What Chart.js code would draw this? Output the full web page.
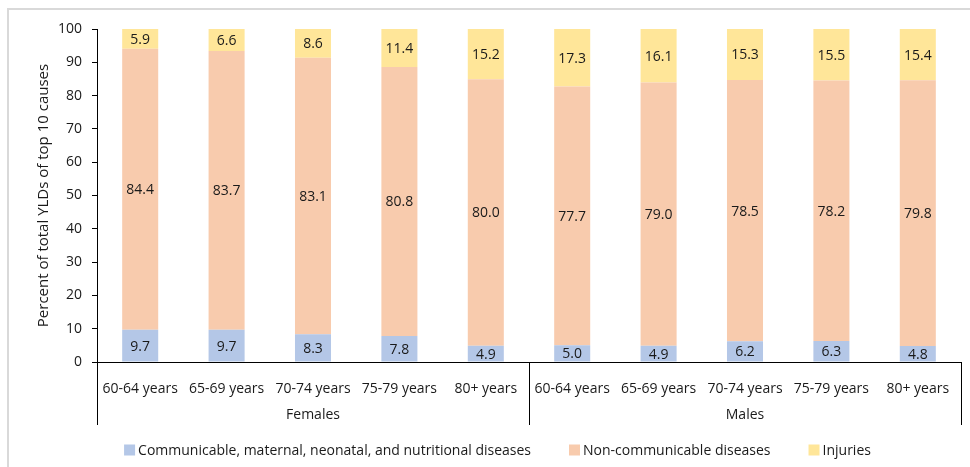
<!DOCTYPE html>
<html>
<head>
<meta charset="utf-8">
<title>YLDs by cause group, age and sex</title>
<script src="https://cdn.jsdelivr.net/npm/chart.js@4.4.1/dist/chart.umd.min.js"></script>
<style>
  html, body { margin: 0; padding: 0; background: #ffffff; }
  #wrap { position: relative; width: 970px; height: 467px; }
</style>
</head>
<body>
<div id="wrap"><canvas id="chart" width="970" height="467"></canvas></div>
<script>
// Age bands, shown once for each sex
const ageGroups = ['60-64 years', '65-69 years', '70-74 years', '75-79 years', '80+ years'];
const sexGroups = ['Females', 'Males'];
const categories = sexGroups.flatMap(() => ageGroups);

// Share (%) of total YLDs of the top 10 causes, females then males
const communicable = [9.7, 9.7, 8.3, 7.8, 4.9, 5.0, 4.9, 6.2, 6.3, 4.8];
const nonCommunicable = [84.4, 83.7, 83.1, 80.8, 80.0, 77.7, 79.0, 78.5, 78.2, 79.8];
const injuries = [5.9, 6.6, 8.6, 11.4, 15.2, 17.3, 16.1, 15.3, 15.5, 15.4];

const yTicks = [0, 10, 20, 30, 40, 50, 60, 70, 80, 90, 100];

const FONT = '"Open Sans", "Liberation Sans", sans-serif';
const TEXT = '#1a1a1a';

// Outer frame (top and left edges)
const framePlugin = {
  id: 'frame',
  beforeDraw(chart) {
    const ctx = chart.ctx;
    ctx.save();
    ctx.strokeStyle = '#d9d9d9';
    ctx.lineWidth = 2;
    ctx.beginPath();
    ctx.moveTo(8, chart.height);
    ctx.lineTo(8, 9);
    ctx.lineTo(chart.width, 9);
    ctx.stroke();
    ctx.restore();
  }
};

// Value labels centred in every segment
const valueLabels = {
  id: 'valueLabels',
  afterDatasetsDraw(chart) {
    const ctx = chart.ctx;
    ctx.save();
    ctx.font = '14px ' + FONT;
    ctx.fillStyle = TEXT;
    ctx.textAlign = 'center';
    ctx.textBaseline = 'middle';
    chart.data.datasets.forEach((ds, i) => {
      const meta = chart.getDatasetMeta(i);
      meta.data.forEach((bar, j) => {
        const y = (bar.y + bar.base) / 2;
        ctx.fillText(ds.data[j].toFixed(1), bar.x, y + 1);
      });
    });
    ctx.restore();
  }
};

// Sex grouping row under the age labels, with dividers
const groupAxis = {
  id: 'groupAxis',
  afterDraw(chart) {
    const ctx = chart.ctx;
    const xs = chart.scales.x;
    const area = chart.chartArea;
    const n = ageGroups.length;
    const top = area.bottom;
    const bottom = area.bottom + 63;
    const edges = [area.left];
    for (let g = 1; g < sexGroups.length; g++) {
      edges.push((xs.getPixelForTick(g * n - 1) + xs.getPixelForTick(g * n)) / 2);
    }
    edges.push(area.right);
    ctx.save();
    ctx.strokeStyle = '#000';
    ctx.lineWidth = 1;
    edges.forEach(x => {
      const px = Math.round(x) + 0.5;
      ctx.beginPath();
      ctx.moveTo(px, top);
      ctx.lineTo(px, bottom);
      ctx.stroke();
    });
    ctx.font = '14px ' + FONT;
    ctx.fillStyle = TEXT;
    ctx.textAlign = 'center';
    ctx.textBaseline = 'middle';
    sexGroups.forEach((name, g) => {
      ctx.fillText(name, (edges[g] + edges[g + 1]) / 2, area.bottom + 53);
    });
    ctx.restore();
  }
};

// Legend row along the bottom
const legendRow = {
  id: 'legendRow',
  afterDraw(chart) {
    const ctx = chart.ctx;
    const box = 11, gapText = 3, gapItem = 38;
    const y = chart.chartArea.bottom + 88;
    ctx.save();
    ctx.font = '14px ' + FONT;
    const items = chart.data.datasets.map(ds => ({
      label: ds.label, color: ds.backgroundColor, w: ctx.measureText(ds.label).width
    }));
    let total = items.reduce((s, it) => s + box + gapText + it.w, 0) + gapItem * (items.length - 1);
    let x = 497.5 - total / 2;
    ctx.textBaseline = 'middle';
    ctx.textAlign = 'left';
    items.forEach(it => {
      ctx.fillStyle = it.color;
      ctx.fillRect(x, y - box / 2, box, box);
      ctx.fillStyle = TEXT;
      ctx.fillText(it.label, x + box + gapText, y + 1);
      x += box + gapText + it.w + gapItem;
    });
    ctx.restore();
  }
};

new Chart(document.getElementById('chart'), {
  type: 'bar',
  data: {
    labels: categories,
    datasets: [
      { label: 'Communicable, maternal, neonatal, and nutritional diseases', data: communicable, backgroundColor: '#b4c7e7' },
      { label: 'Non-communicable diseases', data: nonCommunicable, backgroundColor: '#f8cbad' },
      { label: 'Injuries', data: injuries, backgroundColor: '#ffe699' }
    ]
  },
  options: {
    responsive: false,
    animation: false,
    devicePixelRatio: 1,
    layout: { padding: { left: 0, top: 29, right: 9, bottom: 42 } },
    datasets: { bar: { barPercentage: 0.417, categoryPercentage: 1.0 } },
    plugins: {
      legend: { display: false },
      tooltip: { enabled: false }
    },
    scales: {
      x: {
        stacked: true,
        grid: { display: false },
        border: { display: true, color: '#000', width: 1 },
        ticks: { color: TEXT, font: { family: FONT, size: 14 }, padding: 11, maxRotation: 0, autoSkip: false },
        afterFit(scale) { scale.height = 63; }
      },
      y: {
        stacked: true,
        min: 0,
        max: 100,
        afterBuildTicks(scale) { scale.ticks = yTicks.map(v => ({ value: v })); },
        grid: { display: true, drawOnChartArea: false, drawTicks: true, tickLength: 5, color: '#000' },
        border: { display: true, color: '#000', width: 1 },
        ticks: { color: TEXT, font: { family: FONT, size: 14 }, padding: 10 },
        title: {
          display: true,
          text: 'Percent of total YLDs of top 10 causes',
          color: TEXT,
          font: { family: FONT, size: 15 },
          padding: { top: 35, bottom: 0 }
        },
        afterFit(scale) { scale.width = 97; }
      }
    }
  },
  plugins: [framePlugin, valueLabels, groupAxis, legendRow]
});
</script>
</body>
</html>
